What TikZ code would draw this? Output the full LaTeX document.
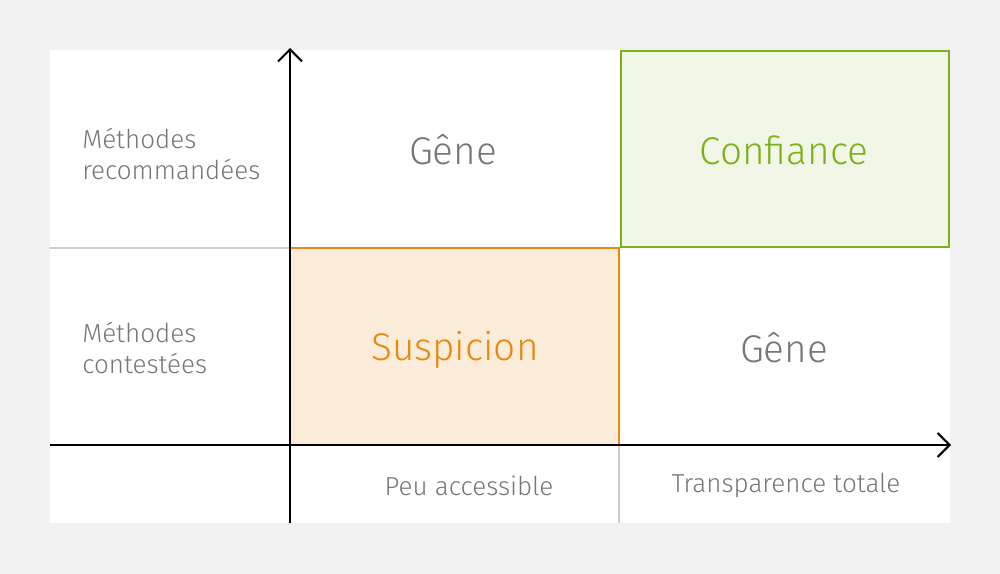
\documentclass[tikz,border=0pt]{standalone}
\usepackage{fontspec}
\setmainfont{Fira Sans}[UprightFont={* Light}]
\usetikzlibrary{arrows.meta}
\definecolor{bggray}{HTML}{F2F2F2}
\definecolor{txtgray}{HTML}{777777}
\definecolor{linegray}{HTML}{CCCCCC}
\definecolor{orangeC}{HTML}{E8890C}
\definecolor{orangeF}{HTML}{FBEBD9}
\definecolor{greenC}{HTML}{7AB317}
\definecolor{greenF}{HTML}{F1F6E7}
\begin{document}
\begin{tikzpicture}[x=0.75pt,y=-0.75pt,
  axis/.style={draw=black,line width=1.5pt,-{Straight Barb[length=9pt,width=18pt,line width=1.5pt]}},
  grid/.style={draw=linegray,line width=1pt},
  big/.style={font=\fontsize{29}{34}\selectfont,inner sep=0pt},
  small/.style={font=\fontsize{19.5}{23.5}\selectfont,inner sep=0pt,text=txtgray}]
\useasboundingbox (0,0) rectangle (1000,574);
\fill[bggray] (0,0) rectangle (1000,574);
\fill[white] (50,50) rectangle (950,523);
% quadrants
\draw[orangeC,fill=orangeF,line width=1.5pt] (290,248) rectangle (619,445);
\draw[greenC,fill=greenF,line width=1.5pt] (621,51) rectangle (949,247);
\coordinate (gl) at (50,248);
\coordinate (gr) at (290,248);
\draw[grid] (gl) -- (gr);
\coordinate (vb) at (619,445);
\coordinate (vt) at (619,523);
\draw[grid] (vb) -- (vt);
% axes
\coordinate (yb) at (290,523);
\coordinate (yt) at (290,48);
\coordinate (xl) at (50,445);
\coordinate (xr) at (951,445);
\draw[axis] (yb) -- (yt);
\draw[axis] (xl) -- (xr);
% labels
\node[big,text=txtgray] (g1) at (453,150) {Gêne};
\node[big,text=greenC] (conf) at (784,150) {Confiance};
\node[big,text=orangeC] (susp) at (455,350) {Suspicion};
\node[big,text=txtgray] (g2) at (784,348) {Gêne};
\node[small,align=left,anchor=west] (mr) at (82,154) {Méthodes\\recommandées};
\node[small,align=left,anchor=west] (mc) at (82,348) {Méthodes\\contestées};
\node[small] (pa) at (469,486) {Peu accessible};
\node[small] (tt) at (786,486) {Transparence totale};
\end{tikzpicture}
\end{document}
